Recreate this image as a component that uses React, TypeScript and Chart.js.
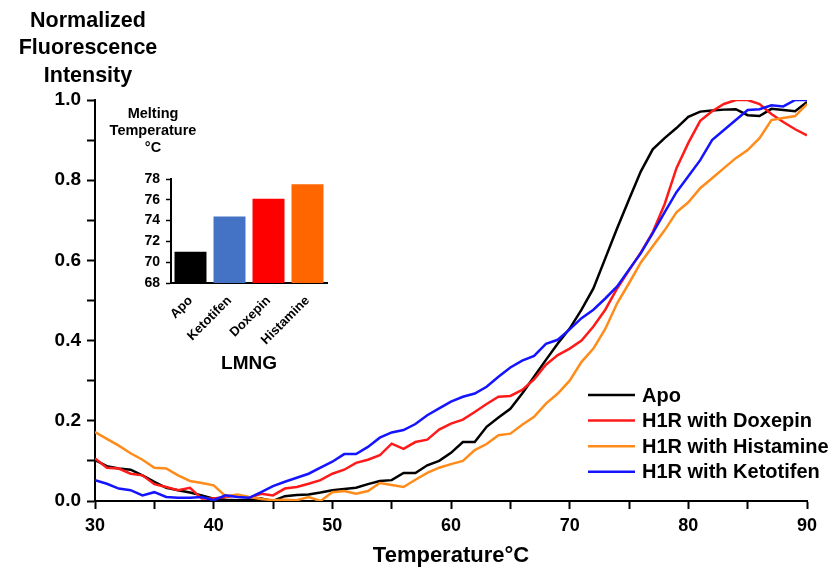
import React, { useEffect, useRef } from 'react';
import { Chart, registerables } from 'chart.js';

Chart.register(...registerables);

// ---------- data ----------
const temperatures = [
  30, 31, 32, 33, 34, 35, 36, 37, 38, 39, 40, 41, 42, 43, 44, 45, 46, 47, 48, 49,
  50, 51, 52, 53, 54, 55, 56, 57, 58, 59, 60, 61, 62, 63, 64, 65, 66, 67, 68, 69,
  70, 71, 72, 73, 74, 75, 76, 77, 78, 79, 80, 81, 82, 83, 84, 85, 86, 87, 88, 89, 90,
];

const apo = [
  0.102, 0.087, 0.081, 0.078, 0.064, 0.048, 0.033, 0.027, 0.021, 0.014,
  0.006, 0.003, 0.002, 0.003, 0.006, 0.000, 0.012, 0.015, 0.016, 0.021,
  0.027, 0.030, 0.033, 0.042, 0.050, 0.052, 0.070, 0.070, 0.089, 0.100,
  0.120, 0.147, 0.147, 0.185, 0.208, 0.230, 0.268, 0.310, 0.352, 0.393,
  0.430, 0.477, 0.530, 0.605, 0.680, 0.752, 0.822, 0.877, 0.905, 0.930,
  0.958, 0.971, 0.974, 0.976, 0.977, 0.962, 0.960, 0.978, 0.975, 0.972, 0.995,
];

const doxepin = [
  0.106, 0.083, 0.081, 0.068, 0.064, 0.042, 0.035, 0.027, 0.033, 0.006,
  0.006, 0.010, 0.014, 0.008, 0.018, 0.014, 0.031, 0.035, 0.043, 0.052,
  0.068, 0.078, 0.095, 0.103, 0.114, 0.143, 0.130, 0.147, 0.153, 0.178,
  0.193, 0.203, 0.222, 0.242, 0.260, 0.262, 0.277, 0.303, 0.340, 0.364,
  0.380, 0.400, 0.435, 0.477, 0.530, 0.575, 0.620, 0.670, 0.740, 0.830,
  0.893, 0.948, 0.972, 0.990, 1.000, 1.000, 0.990, 0.965, 0.945, 0.927, 0.912,
];

const histamine = [
  0.172, 0.155, 0.138, 0.119, 0.103, 0.083, 0.081, 0.064, 0.050, 0.045,
  0.039, 0.012, 0.016, 0.010, 0.005, 0.002, 0.003, 0.002, 0.010, 0.000,
  0.022, 0.025, 0.018, 0.025, 0.045, 0.040, 0.035, 0.053, 0.070, 0.083,
  0.092, 0.100, 0.127, 0.142, 0.164, 0.168, 0.190, 0.210, 0.243, 0.268,
  0.300, 0.347, 0.380, 0.429, 0.493, 0.543, 0.595, 0.635, 0.675, 0.720,
  0.745, 0.780, 0.805, 0.830, 0.855, 0.875, 0.905, 0.950, 0.955, 0.960, 0.990,
];

const ketotifen = [
  0.052, 0.043, 0.031, 0.027, 0.014, 0.022, 0.010, 0.008, 0.008, 0.010,
  0.002, 0.014, 0.010, 0.008, 0.022, 0.037, 0.048, 0.058, 0.068, 0.083,
  0.098, 0.117, 0.117, 0.135, 0.158, 0.171, 0.177, 0.192, 0.214, 0.231,
  0.248, 0.260, 0.268, 0.285, 0.310, 0.333, 0.350, 0.362, 0.392, 0.402,
  0.428, 0.456, 0.477, 0.505, 0.535, 0.577, 0.618, 0.668, 0.720, 0.770,
  0.810, 0.850, 0.900, 0.925, 0.950, 0.975, 0.977, 0.987, 0.984, 1.000, 1.000,
];

const seriesLabels = ['Apo', 'H1R with Doxepin', 'H1R with Histamine', 'H1R with Ketotifen'];
const seriesValues = [apo, doxepin, histamine, ketotifen];
const seriesColors = ['#000000', '#FF1A1A', '#FF8C1A', '#1414FF'];

const yAxisTitleLines = ['Normalized', 'Fluorescence', 'Intensity'];
const xAxisTitle = 'Temperature°C';

// inset
const meltCategories = ['Apo', 'Ketotifen', 'Doxepin', 'Histamine'];
const meltValues = [71.0, 74.4, 76.1, 77.5];
const meltColors = ['#000000', '#4472C4', '#FF0000', '#FF6600'];
const insetTitleLines = ['Melting', 'Temperature', '°C'];
const insetXTitle = 'LMNG';

const SANS = '"Liberation Sans", Arial, Helvetica, sans-serif';

const W = 830;
const H = 571;
const INSET = { left: 100, top: 90, width: 240, height: 290 };

export default function App() {
  const mainRef = useRef<HTMLCanvasElement | null>(null);
  const insetRef = useRef<HTMLCanvasElement | null>(null);

  useEffect(() => {
    if (!mainRef.current || !insetRef.current) return;

    const mainDecor = {
      id: 'mainDecor',
      afterDraw(chart: any) {
        const ctx = chart.ctx;
        ctx.save();
        ctx.fillStyle = '#000';
        ctx.textAlign = 'center';
        ctx.textBaseline = 'middle';
        ctx.font = `bold 21.5px ${SANS}`;
        yAxisTitleLines.forEach((t, i) => ctx.fillText(t, 88, 21 + i * 27.5));

        // legend
        ctx.textAlign = 'left';
        ctx.font = `bold 20px ${SANS}`;
        seriesLabels.forEach((label, i) => {
          const y = 395 + i * 25.6;
          ctx.strokeStyle = seriesColors[i];
          ctx.lineWidth = 2.5;
          ctx.beginPath();
          ctx.moveTo(588, y);
          ctx.lineTo(635, y);
          ctx.stroke();
          ctx.fillText(label, 642, y + 1);
        });
        ctx.restore();
      },
    };

    const main = new Chart(mainRef.current, {
      type: 'line',
      data: {
        datasets: seriesValues.map((vals, i) => ({
          label: seriesLabels[i],
          data: temperatures.map((t, j) => ({ x: t, y: vals[j] })),
          borderColor: seriesColors[i],
          backgroundColor: seriesColors[i],
          borderWidth: 2.5,
          pointRadius: 0,
          tension: 0,
          fill: false,
          order: 3 - i,
        })),
      },
      options: {
        animation: false,
        responsive: false,
        devicePixelRatio: 1,
        layout: { padding: { left: 0, right: 23, top: 100, bottom: 0 } },
        plugins: { legend: { display: false }, tooltip: { enabled: false } },
        scales: {
          x: {
            type: 'linear',
            min: 30,
            max: 90,
            afterFit: (s: any) => { s.height = 70; },
            border: { display: true, color: '#000', width: 2 },
            grid: { display: true, drawOnChartArea: false, drawTicks: true, tickLength: 8, tickWidth: 2, tickColor: '#000' },
            ticks: {
              stepSize: 5,
              autoSkip: false,
              maxRotation: 0,
              color: '#000',
              padding: 6,
              font: { family: SANS, weight: 'bold', size: 18 },
              callback: (v: any) => (Number(v) % 10 === 0 ? String(v) : ''),
            },
            title: {
              display: true,
              text: xAxisTitle,
              color: '#000',
              font: { family: SANS, weight: 'bold', size: 22 },
              padding: { top: 0, bottom: 2 },
            },
          },
          y: {
            type: 'linear',
            min: 0,
            max: 1,
            afterFit: (s: any) => { s.width = 95; },
            border: { display: true, color: '#000', width: 2 },
            grid: { display: true, drawOnChartArea: false, drawTicks: true, tickLength: 8, tickWidth: 2, tickColor: '#000' },
            ticks: {
              stepSize: 0.1,
              autoSkip: false,
              color: '#000',
              padding: 6,
              font: { family: SANS, weight: 'bold', size: 19 },
              callback: (v: any) => (Math.round(Number(v) * 10) % 2 === 0 ? Number(v).toFixed(1) : ''),
            },
          },
        },
      },
      plugins: [mainDecor],
    } as any);

    const insetDecor = {
      id: 'insetDecor',
      afterDraw(chart: any) {
        const ctx = chart.ctx;
        ctx.save();
        ctx.fillStyle = '#000';
        ctx.textAlign = 'center';
        ctx.textBaseline = 'middle';
        ctx.font = `bold 14.5px ${SANS}`;
        insetTitleLines.forEach((t, i) => ctx.fillText(t, 53, 23.5 + i * 17));
        ctx.restore();
      },
    };

    const inset = new Chart(insetRef.current, {
      type: 'bar',
      data: {
        labels: meltCategories,
        datasets: [{
          data: meltValues,
          backgroundColor: meltColors,
          borderWidth: 0,
          barPercentage: 0.82,
          categoryPercentage: 1,
        }],
      },
      options: {
        animation: false,
        responsive: false,
        devicePixelRatio: 1,
        layout: { padding: { left: 0, right: 13, top: 89, bottom: 0 } },
        plugins: { legend: { display: false }, tooltip: { enabled: false } },
        scales: {
          x: {
            afterFit: (s: any) => { s.height = 97; },
            grid: { display: false },
            border: { display: true, color: '#000', width: 2 },
            ticks: {
              minRotation: 45,
              maxRotation: 45,
              color: '#000',
              padding: 2,
              font: { family: SANS, weight: 'bold', size: 13 },
            },
            title: {
              display: true,
              text: insetXTitle,
              color: '#000',
              font: { family: SANS, weight: 'bold', size: 19 },
              padding: { top: 0, bottom: 5 },
            },
          },
          y: {
            min: 68,
            max: 78,
            afterFit: (s: any) => { s.width = 71; },
            border: { display: true, color: '#000', width: 2 },
            grid: { display: true, drawOnChartArea: false, drawTicks: true, tickLength: 5, tickWidth: 1.5, tickColor: '#000' },
            ticks: {
              stepSize: 2,
              color: '#000',
              padding: 6,
              font: { family: SANS, weight: 'bold', size: 14 },
            },
          },
        },
      },
      plugins: [insetDecor],
    } as any);

    return () => {
      main.destroy();
      inset.destroy();
    };
  }, []);

  return (
    <div style={{ position: 'fixed', left: 0, top: 0, width: W, height: H, background: '#fff', overflow: 'hidden' }}>
      <canvas ref={mainRef} width={W} height={H} style={{ position: 'absolute', left: 0, top: 0, width: W, height: H }} />
      <canvas
        ref={insetRef}
        width={INSET.width}
        height={INSET.height}
        style={{ position: 'absolute', left: INSET.left, top: INSET.top, width: INSET.width, height: INSET.height }}
      />
    </div>
  );
}
